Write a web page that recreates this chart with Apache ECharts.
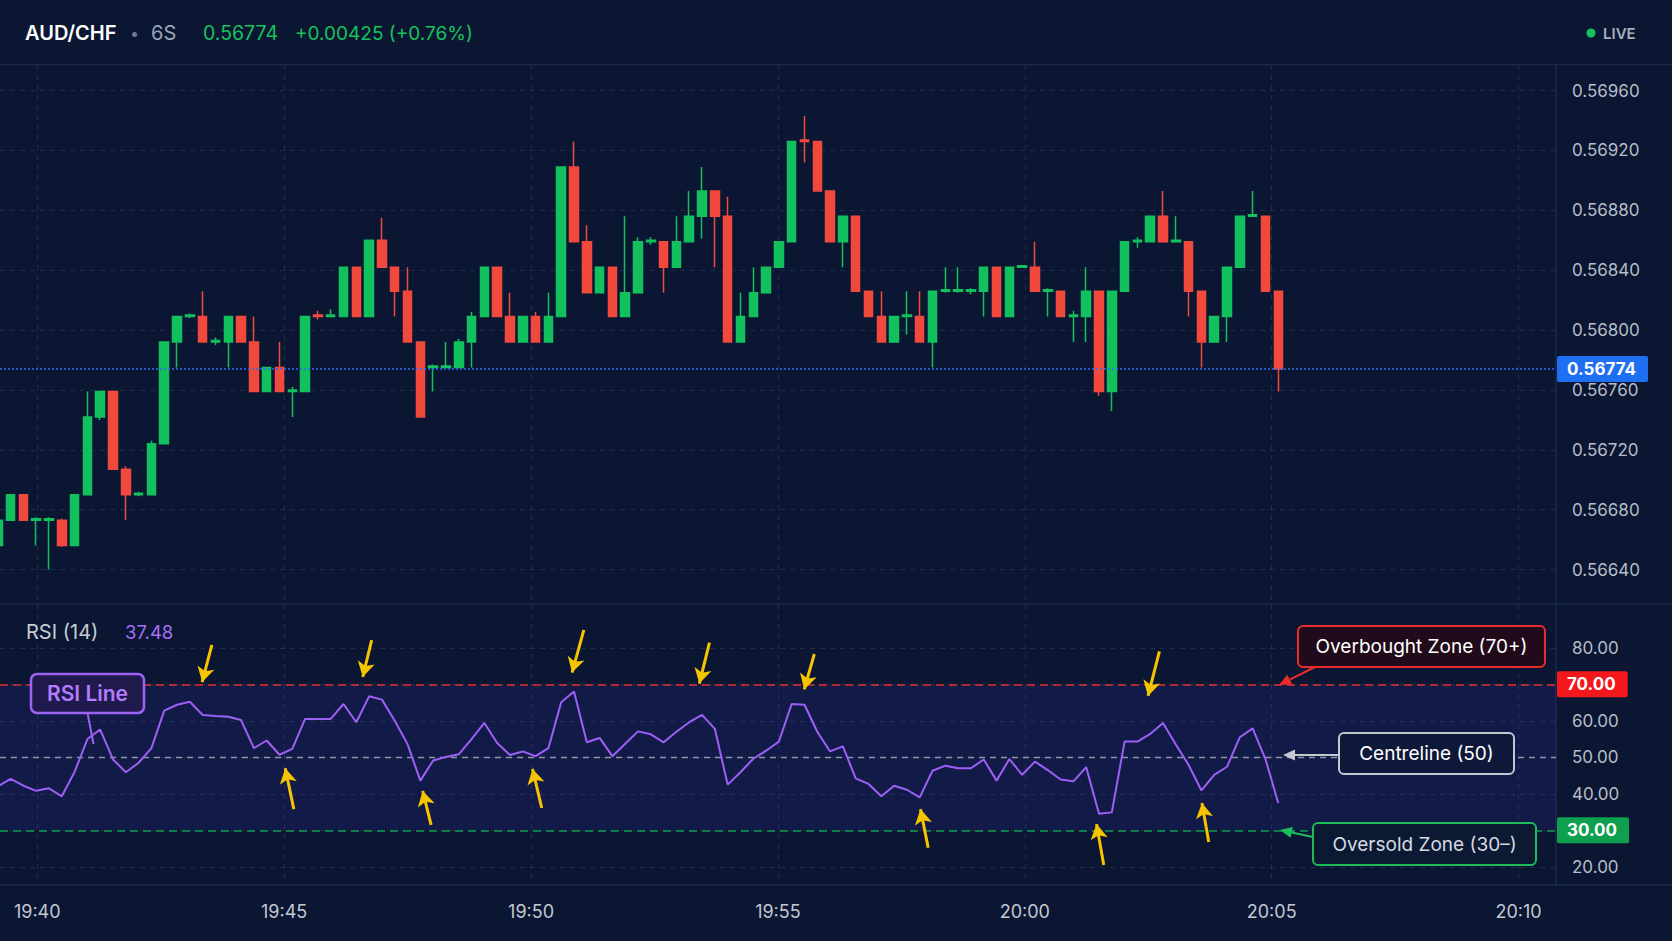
<!DOCTYPE html>
<html>
<head>
<meta charset="utf-8">
<script src="https://cdn.jsdelivr.net/npm/echarts@6/dist/echarts.min.js"></script>
<style>
html,body{margin:0;padding:0;background:#0b1632;}
#chart{width:1672px;height:941px;}
</style>
</head>
<body>
<div id="chart"></div>
<script>
// ---------------- data ----------------
const pairName = 'AUD/CHF';
const timeframe = '6S';
const lastPrice = 0.56774;
const priceChange = 0.00425;
const changePct = 0.76;

// candle times: seconds relative to 19:40:00
const candleStartSec = -48;
const candleStepSec = 15.56;

const opens = [
0.56656,0.56673,0.56690,0.56673,0.56673,0.56673,0.56656,0.56690,0.56742,0.56759,
0.56707,0.56690,0.56690,0.56724,0.56792,0.56809,0.56809,0.56792,0.56792,0.56809,
0.56792,0.56759,0.56775,0.56759,0.56759,0.56810,0.56809,0.56809,0.56842,0.56809,
0.56860,0.56842,0.56826,0.56792,0.56775,0.56775,0.56775,0.56792,0.56809,0.56842,
0.56809,0.56792,0.56809,0.56792,0.56809,0.56909,0.56859,0.56825,0.56842,0.56809,
0.56825,0.56859,0.56859,0.56842,0.56859,0.56876,0.56893,0.56876,0.56792,0.56809,
0.56825,0.56842,0.56859,0.56927,0.56926,0.56893,0.56859,0.56876,0.56826,0.56809,
0.56792,0.56809,0.56809,0.56792,0.56826,0.56826,0.56826,0.56826,0.56842,0.56809,
0.56842,0.56842,0.56826,0.56826,0.56809,0.56809,0.56826,0.56759,0.56826,0.56859,
0.56859,0.56876,0.56859,0.56859,0.56826,0.56792,0.56809,0.56842,0.56876,0.56876,
0.56826];
const closes = [
0.56673,0.56690,0.56673,0.56674,0.56674,0.56656,0.56690,0.56742,0.56759,0.56707,
0.56690,0.56691,0.56724,0.56792,0.56809,0.56810,0.56792,0.56793,0.56809,0.56792,
0.56759,0.56775,0.56759,0.56760,0.56809,0.56809,0.56810,0.56842,0.56809,0.56860,
0.56842,0.56826,0.56792,0.56742,0.56776,0.56776,0.56792,0.56809,0.56842,0.56809,
0.56792,0.56809,0.56792,0.56809,0.56909,0.56859,0.56825,0.56842,0.56809,0.56825,
0.56859,0.56860,0.56842,0.56859,0.56876,0.56893,0.56876,0.56792,0.56809,0.56825,
0.56842,0.56859,0.56926,0.56926,0.56893,0.56859,0.56876,0.56826,0.56809,0.56792,
0.56809,0.56810,0.56792,0.56826,0.56827,0.56827,0.56827,0.56842,0.56809,0.56842,
0.56843,0.56826,0.56827,0.56809,0.56810,0.56826,0.56759,0.56826,0.56859,0.56860,
0.56876,0.56859,0.56860,0.56826,0.56792,0.56809,0.56842,0.56876,0.56877,0.56826,
0.56774];
const lows = [
0.56656,0.56673,0.56673,0.56656,0.56640,0.56655,0.56656,0.56690,0.56740,0.56707,
0.56673,0.56689,0.56690,0.56724,0.56775,0.56808,0.56792,0.56790,0.56775,0.56792,
0.56759,0.56759,0.56759,0.56742,0.56759,0.56807,0.56809,0.56809,0.56809,0.56809,
0.56842,0.56809,0.56792,0.56742,0.56759,0.56775,0.56775,0.56775,0.56809,0.56809,
0.56792,0.56792,0.56792,0.56792,0.56809,0.56859,0.56825,0.56825,0.56809,0.56809,
0.56825,0.56857,0.56825,0.56842,0.56859,0.56861,0.56842,0.56792,0.56792,0.56809,
0.56825,0.56842,0.56859,0.56912,0.56893,0.56859,0.56842,0.56826,0.56809,0.56792,
0.56792,0.56797,0.56792,0.56775,0.56825,0.56825,0.56824,0.56809,0.56809,0.56809,
0.56842,0.56826,0.56809,0.56809,0.56792,0.56792,0.56756,0.56746,0.56826,0.56855,
0.56859,0.56859,0.56859,0.56809,0.56775,0.56792,0.56792,0.56842,0.56876,0.56826,
0.56759];
const highs = [
0.56673,0.56690,0.56690,0.56675,0.56675,0.56674,0.56690,0.56759,0.56759,0.56759,
0.56709,0.56692,0.56726,0.56792,0.56809,0.56811,0.56826,0.56795,0.56809,0.56809,
0.56809,0.56775,0.56792,0.56762,0.56809,0.56813,0.56814,0.56842,0.56842,0.56860,
0.56875,0.56842,0.56842,0.56792,0.56777,0.56792,0.56794,0.56812,0.56842,0.56842,
0.56825,0.56809,0.56812,0.56825,0.56909,0.56926,0.56870,0.56842,0.56842,0.56876,
0.56862,0.56862,0.56859,0.56876,0.56893,0.56909,0.56893,0.56889,0.56825,0.56842,
0.56842,0.56859,0.56926,0.56943,0.56926,0.56893,0.56876,0.56876,0.56826,0.56826,
0.56809,0.56826,0.56826,0.56826,0.56842,0.56842,0.56828,0.56842,0.56842,0.56842,
0.56843,0.56859,0.56828,0.56826,0.56813,0.56842,0.56826,0.56826,0.56859,0.56862,
0.56876,0.56893,0.56876,0.56859,0.56826,0.56809,0.56842,0.56876,0.56893,0.56876,
0.56826];
const rsiValues = [
42.0,44.1,42.2,40.8,41.5,39.3,46.0,55.0,57.6,49.4,
45.9,48.5,52.5,62.8,64.4,65.2,61.6,61.3,61.1,60.2,
52.5,54.6,50.7,52.3,60.5,60.5,60.5,64.6,59.6,66.7,
65.8,60.0,53.6,43.6,49.1,50.1,50.8,55.0,59.4,53.9,
50.6,51.6,50.3,52.5,65.1,68.0,54.1,55.3,50.3,53.7,
57.1,56.3,54.1,57.0,59.6,61.6,57.8,42.5,45.9,49.6,
51.8,54.3,64.6,64.4,57.0,51.6,53.0,44.2,42.7,39.3,
42.2,41.1,39.0,46.3,47.7,47.0,47.0,49.4,43.6,49.5,
45.2,48.8,46.5,43.9,43.4,47.3,34.5,34.9,54.3,54.3,
56.4,59.4,53.5,47.9,40.9,45.2,47.4,55.5,57.9,49.5,
37.48];

// axis ticks
const timeTickSec = [0, 300, 600, 900, 1200, 1500, 1800];
const timeTickLabels = ['19:40', '19:45', '19:50', '19:55', '20:00', '20:05', '20:10'];
const priceTicks = [0.56640, 0.56680, 0.56720, 0.56760, 0.56800, 0.56840, 0.56880, 0.56920, 0.56960];
const rsiLabelTicks = [20, 40, 50, 60, 80];
const rsiGridTicks = [20, 30, 40, 50, 60, 70, 80];
const rsiPeriod = 14;
const overbought = 70, centre = 50, oversold = 30;

// annotation arrows: [fromCandleIdx, fromRsi, toCandleIdx, toRsi]
const peakArrows = [
  [16.72, 80.8, 15.96, 70.6],
  [29.2, 82.1, 28.5, 72.0],
  [45.77, 84.9, 44.85, 73.2],
  [55.58, 81.4, 54.79, 70.2],
  [63.77, 78.3, 62.98, 68.6],
  [90.72, 79.0, 89.83, 66.8]
];
const troughArrows = [
  [23.12, 35.8, 22.45, 47.0],
  [33.84, 31.5, 33.18, 40.8],
  [42.48, 36.1, 41.76, 46.8],
  [72.66, 25.2, 72.06, 35.8],
  [86.37, 20.5, 85.81, 31.7],
  [94.57, 26.8, 94.04, 37.5]
];

// ---------------- build ----------------
const timeOf = idx => candleStartSec + idx * candleStepSec;
const candleData = opens.map((o, i) => [timeOf(i), o, closes[i], lows[i], highs[i]]);
const rsiData = rsiValues.map((v, i) => [timeOf(i), v]);
const lastIdx = closes.length - 1;

const FONT = 'Inter, "Noto Sans", sans-serif';
const BG = '#0b1632';
const GRID_COLOR = 'rgba(140,155,190,0.16)';
const UP = '#12c15e', DOWN = '#f1493d';
const YELLOW = '#f6c400';

const gridLeft = 0, gridRight = 116;
const mainTop = 65, mainHeight = 539;
const rsiTop = 604, rsiHeight = 281;

function arrowItems(list) {
  return list.map(a => [
    { coord: [timeOf(a[0]), a[1]], symbol: 'none' },
    { coord: [timeOf(a[2]), a[3]], symbol: 'arrow', symbolSize: [13, 15],
      lineStyle: { color: YELLOW, width: 3, type: 'solid' }, label: { show: false } }
  ]);
}

function arrowGraphic(x1, y1, x2, y2, color, lw, hl, hw) {
  const ang = Math.atan2(y2 - y1, x2 - x1);
  const bx = x2 - hl * Math.cos(ang), by = y2 - hl * Math.sin(ang);
  const px = -Math.sin(ang) * hw / 2, py = Math.cos(ang) * hw / 2;
  return [
    { type: 'line', z: 60, shape: { x1: x1, y1: y1, x2: bx, y2: by }, style: { stroke: color, lineWidth: lw } },
    { type: 'polygon', z: 60, shape: { points: [[x2, y2], [bx + px, by + py], [bx - px, by - py]] }, style: { fill: color } }
  ];
}

function txt(text, x, y, fill, size, weight, align, extra) {
  return Object.assign({
    type: 'text', z: 60,
    style: {
      text: text, x: x, y: y, fill: fill,
      font: (weight || 'normal') + ' ' + size + 'px ' + FONT,
      fontSize: size, fontWeight: weight || 'normal', fontFamily: FONT,
      align: align || 'left', textAlign: align || 'left',
      verticalAlign: 'middle', textVerticalAlign: 'middle'
    }
  }, extra || {});
}

function box(x, y, w, h, fill, stroke, lw, r) {
  return { type: 'rect', z: 55, shape: { x: x, y: y, width: w, height: h, r: r },
    style: { fill: fill, stroke: stroke, lineWidth: lw } };
}

function sepLine(x1, y1, x2, y2) {
  return { type: 'line', z: 1, silent: true, shape: { x1: x1, y1: y1, x2: x2, y2: y2 },
    style: { stroke: '#1d2948', lineWidth: 1.5 } };
}

const sign = v => (v >= 0 ? '+' : '');

const graphics = [
  sepLine(0, 64.5, 1672, 64.5),
  sepLine(0, 604, 1672, 604),
  sepLine(0, 885, 1672, 885),
  sepLine(1556, 64.5, 1556, 885),
  // header
  txt(pairName, 25, 33, '#ffffff', 20, '600'),
  txt('•', 130, 33, '#6f7a8f', 16, 'normal'),
  txt(timeframe, 151, 33, '#9ba4b6', 20, 'normal'),
  txt(lastPrice.toFixed(5), 203, 33, '#18c25d', 19.5, 'normal'),
  txt(sign(priceChange) + priceChange.toFixed(5) + ' (' + sign(changePct) + changePct.toFixed(2) + '%)', 295, 33, '#18c25d', 19, 'normal'),
  { type: 'circle', z: 60, shape: { cx: 1591, cy: 33, r: 4.5 }, style: { fill: '#14c25e' } },
  txt('LIVE', 1603, 33, '#a8afbd', 15, '600'),
  // RSI pane title
  txt('RSI (' + rsiPeriod + ')', 26, 632, '#c7ccd6', 20, 'normal'),
  txt(rsiValues[lastIdx].toFixed(2), 125, 632, '#a56ff5', 18.5, 'normal'),
  // RSI Line callout
  { type: 'line', z: 54, shape: { x1: 87.5, y1: 713, x2: 93.5, y2: 744 }, style: { stroke: '#9d63f5', lineWidth: 2 } },
  box(31, 674, 113, 39, '#1f1a4b', '#9d63f5', 2.5, 6),
  txt('RSI Line', 87.5, 693.5, '#b47cff', 21, '600', 'center'),
  // zone callouts
  box(1298, 626, 247, 41, '#210b1b', '#ea2a2d', 2, 5),
  txt('Overbought Zone (' + overbought + '+)', 1421.5, 646.5, '#ffffff', 19, 'normal', 'center'),
  box(1339, 733, 175, 41, '#0e1838', '#c3c7d0', 2, 5),
  txt('Centreline (' + centre + ')', 1426.5, 753.5, '#ffffff', 19, 'normal', 'center'),
  box(1313, 823, 223, 42, '#0b1933', '#1cbb5c', 2, 5),
  txt('Oversold Zone (' + oversold + '–)', 1424.5, 844, '#d6dae2', 19, 'normal', 'center')
].concat(
  arrowGraphic(1315, 667, 1279, 685, '#ec2b2b', 2, 12, 11),
  arrowGraphic(1339, 755, 1283, 755, '#c4c8d0', 2, 12, 11),
  arrowGraphic(1313, 837, 1280, 830, '#1fbf5f', 2, 12, 11)
);

const xAxisBase = {
  type: 'value',
  min: -45.3, max: 1845.5,
  axisLine: { show: false },
  axisTick: { show: false, customValues: timeTickSec },
  splitLine: { show: true, lineStyle: { color: GRID_COLOR, type: [5, 5], width: 1 } }
};

const tagLabel = (text, bg) => ({
  show: true, position: 'end', formatter: text, color: '#ffffff',
  backgroundColor: bg, padding: [5, 12, 4, 10], fontSize: 17, fontWeight: 'bold',
  borderRadius: 2, distance: 1, fontFamily: FONT
});

const option = {
  backgroundColor: BG,
  animation: false,
  textStyle: { fontFamily: FONT },
  grid: [
    { left: gridLeft, right: gridRight, top: mainTop, height: mainHeight },
    { left: gridLeft, right: gridRight, top: rsiTop, height: rsiHeight }
  ],
  xAxis: [
    Object.assign({}, xAxisBase, { gridIndex: 0, axisLabel: { show: false } }),
    Object.assign({}, xAxisBase, { gridIndex: 1,
      axisLabel: { show: true, customValues: timeTickSec, color: '#c3c8d2', fontSize: 18, margin: 17, fontFamily: FONT,
        formatter: v => timeTickLabels[timeTickSec.indexOf(Math.round(v))] || '' } })
  ],
  yAxis: [
    { type: 'value', gridIndex: 0, position: 'right', min: 0.56617, max: 0.569771,
      axisLine: { show: false },
      axisTick: { show: false, customValues: priceTicks },
      axisLabel: { customValues: priceTicks, color: '#b7bdc9', fontSize: 17, margin: 16, fontFamily: FONT,
        formatter: v => v.toFixed(5) },
      splitLine: { show: true, lineStyle: { color: GRID_COLOR, type: [5, 5], width: 1 } }
    },
    { type: 'value', gridIndex: 1, position: 'right', min: 15, max: 92,
      axisLine: { show: false },
      axisTick: { show: false, customValues: rsiGridTicks },
      axisLabel: { customValues: rsiLabelTicks, color: '#b7bdc9', fontSize: 17, margin: 16, fontFamily: FONT,
        formatter: v => v.toFixed(2) },
      splitLine: { show: true, lineStyle: { color: GRID_COLOR, type: [5, 5], width: 1 } }
    }
  ],
  series: [
    {
      name: pairName, type: 'candlestick', xAxisIndex: 0, yAxisIndex: 0,
      data: candleData,
      encode: { x: 0, y: [1, 2, 3, 4] },
      barWidth: 9, z: 3,
      itemStyle: { color: UP, color0: DOWN, borderColor: UP, borderColor0: DOWN, borderWidth: 1.5 },
      markLine: {
        silent: true, symbol: ['none', 'none'], animation: false, precision: 5,
        data: [{ yAxis: lastPrice,
          lineStyle: { color: '#2f6df5', type: [2, 2], width: 1.5 },
          label: tagLabel(lastPrice.toFixed(5), '#1f6ff2') }]
      }
    },
    {
      name: 'RSI (' + rsiPeriod + ')', type: 'line', xAxisIndex: 1, yAxisIndex: 1,
      data: rsiData, showSymbol: false, symbol: 'none',
      lineStyle: { color: '#9d5ff6', width: 2 },
      z: 5,
      markArea: {
        silent: true,
        itemStyle: { color: 'rgba(70,60,220,0.13)' },
        data: [[{ yAxis: oversold }, { yAxis: overbought }]]
      },
      markLine: {
        silent: true, symbol: ['none', 'none'], animation: false, precision: 4,
        data: [
          { yAxis: overbought, lineStyle: { color: '#e3302d', type: [8, 5], width: 1.5 },
            label: tagLabel(overbought.toFixed(2), '#f2181c') },
          { yAxis: centre, lineStyle: { color: '#8f95a5', type: [6, 5], width: 1.4 }, label: { show: false } },
          { yAxis: oversold, lineStyle: { color: '#0f9e4e', type: [8, 5], width: 1.5 },
            label: tagLabel(oversold.toFixed(2), '#0ea04f') }
        ].concat(arrowItems(peakArrows), arrowItems(troughArrows))
      }
    }
  ],
  graphic: graphics
};

const chart = echarts.init(document.getElementById('chart'), null, { renderer: 'svg' });
chart.setOption(option);
</script>
</body>
</html>
